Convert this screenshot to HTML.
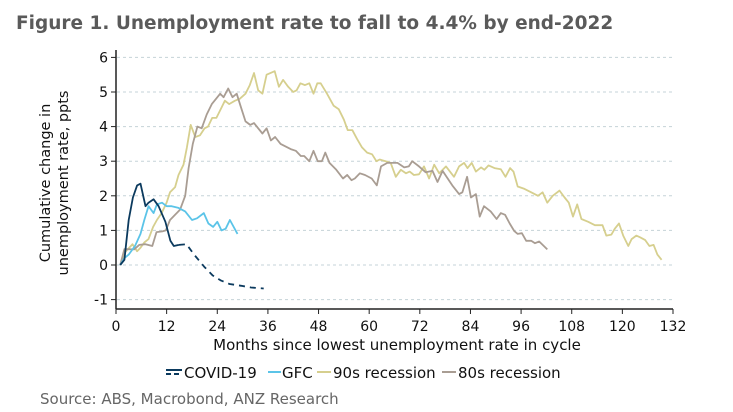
<!DOCTYPE html>
<html><head><meta charset="utf-8"><style>
body{margin:0;background:#fff;width:733px;height:407px;overflow:hidden;font-family:"Liberation Sans","DejaVu Sans",sans-serif}
svg text{font-family:"DejaVu Sans","Liberation Sans",sans-serif}
</style></head><body>
<svg id="chart" width="733" height="407" xmlns="http://www.w3.org/2000/svg">
<text x="16" y="29" font-size="18.5" font-weight="bold" fill="#5a5a5a" style="font-family:'DejaVu Sans',sans-serif">Figure 1. Unemployment rate to fall to 4.4% by end-2022</text>
<g id="grid"></g><g id="axes"></g><g id="series"></g>
<text x="397" y="350" font-size="15" text-anchor="middle" fill="#111">Months since lowest unemployment rate in cycle</text>
<text transform="translate(50,183) rotate(-90)" font-size="14.5" text-anchor="middle" fill="#111"><tspan x="0" dy="0">Cumulative change in</tspan><tspan x="0" dy="18">unemployment rate, ppts</tspan></text>
<g id="legend" font-size="15" fill="#111">
<g><line x1="166" y1="370" x2="182" y2="370" stroke="#0b3a5e" stroke-width="2"/><line x1="166" y1="374" x2="182" y2="374" stroke="#0b3a5e" stroke-width="2" stroke-dasharray="5,3"/><text x="184" y="378">COVID-19</text></g>
<g><line x1="268" y1="372" x2="281" y2="372" stroke="#5bc4e8" stroke-width="2"/><text x="282" y="378">GFC</text></g>
<g><line x1="317" y1="372" x2="331" y2="372" stroke="#d6cf8e" stroke-width="2"/><text x="333" y="378">90s recession</text></g>
<g><line x1="442" y1="372" x2="456" y2="372" stroke="#a99d93" stroke-width="2"/><text x="458" y="378">80s recession</text></g>
</g>
<text x="40" y="404" font-size="15" fill="#666">Source: ABS, Macrobond, ANZ Research</text>
</svg>
<script>
const xTicks=[0,12,24,36,48,60,72,84,96,108,120,132];
const yTicks=[-1,0,1,2,3,4,5,6];
const covidX=[1,2,3,4,5,5.8,7,7.7,8.9,10.1,11.7,12.9,13.7,14.9];
const covidY=[0,0.15,1.3,1.95,2.3,2.35,1.7,1.8,1.9,1.7,1.25,0.7,0.55,0.58];
const covidFcX=[14.9,16.7,18.5,20.9,22.9,24.9,26.9,29.7,32,35];
const covidFcY=[0.58,0.6,0.3,-0.05,-0.3,-0.45,-0.55,-0.6,-0.65,-0.68];
const gfcX=[1,2,3,4.5,5.8,6.7,7.7,8.9,9.7,10.9,12,13.2,14.8,16.4,18,19.2,20.8,21.9,23,24,25,26,27,28.8];
const gfcY=[0,0.2,0.3,0.55,0.9,1.3,1.7,1.5,1.75,1.8,1.7,1.7,1.65,1.55,1.3,1.35,1.5,1.2,1.1,1.25,1,1.05,1.3,0.9];
const r90X=[1,2,3.9,5,5.8,6.7,7.7,8.8,9.7,10.8,12,12.8,14,14.8,16,16.8,17.7,18.8,19.9,21,21.8,22.8,23.8,25,25.8,26.8,28.2,29.3,30.7,31.7,32.7,33.7,34.7,35.7,37.6,38.6,39.6,40.8,42,42.8,43.7,44.8,45.8,46.8,47.7,48.5,50,51.6,52.8,54,54.9,56,57.1,58.3,59.5,60.7,61.7,62.5,63.9,65.1,66.3,67.5,68.7,69.6,70.6,71.8,73,74.2,75.4,76.6,78.2,80.1,81.3,82.5,83.3,84.3,85.3,86.5,87.3,88.3,89.7,91.2,92.3,93.4,94.2,95.2,96.8,98.4,100,101.1,102.2,103.5,105.1,106.3,107.3,108.3,109.3,110.3,111.9,113.5,115.3,116.2,117.4,118.2,119.2,120.2,121.4,122.2,123.3,124.2,125.4,126.4,127.4,128.3,129.3];
const r90Y=[0,0.35,0.6,0.4,0.5,0.65,0.75,1.1,1.3,1.5,1.8,2.1,2.25,2.6,2.9,3.4,4.05,3.7,3.75,3.95,4,4.25,4.25,4.55,4.75,4.65,4.75,4.8,4.95,5.2,5.55,5.05,4.95,5.5,5.6,5.15,5.35,5.15,5,5.05,5.25,5.2,5.25,4.95,5.25,5.25,4.95,4.6,4.5,4.2,3.9,3.9,3.65,3.4,3.25,3.2,3,3.05,3,2.95,2.55,2.75,2.65,2.7,2.6,2.62,2.85,2.5,2.9,2.65,2.85,2.55,2.85,2.95,2.8,2.95,2.7,2.82,2.75,2.88,2.8,2.77,2.55,2.8,2.7,2.27,2.2,2.1,2,2.1,1.8,2,2.15,1.95,1.8,1.4,1.75,1.33,1.25,1.15,1.15,0.85,0.88,1.05,1.2,0.85,0.55,0.75,0.85,0.8,0.72,0.55,0.58,0.3,0.15];
const r80X=[1,2,4.3,5.5,7,8.6,9.6,11,11.8,12.8,14,15.2,16.4,17.2,18.2,19.3,20.3,21.5,22.7,24.7,25.5,26.6,27.6,28.6,29.5,30.7,31.8,32.7,34.7,35.7,36.7,37.7,39,41.4,42.6,43.8,44.6,45.8,46.8,47.8,48.8,49.6,50.6,52.2,53.8,54.8,55.8,56.6,57.8,59,60.6,61.8,62.8,64.3,66.7,68.3,69.4,70.2,71.8,73.4,75,76.2,77.4,78.6,79.7,81.3,82.1,83.2,84.1,85.3,86.2,87.2,88.8,90.2,91.2,92.2,93.3,94.4,95.2,96.2,97.2,98.4,99.3,100.3,102.2];
const r80Y=[0,0.46,0.45,0.58,0.6,0.55,0.95,0.97,1,1.3,1.45,1.6,2,2.8,3.5,4,3.95,4.35,4.65,4.95,4.85,5.1,4.85,4.95,4.6,4.15,4.05,4.1,3.8,3.95,3.6,3.7,3.5,3.35,3.3,3.15,3.15,3,3.3,3,3,3.25,2.95,2.75,2.5,2.6,2.45,2.5,2.65,2.6,2.5,2.3,2.85,2.95,2.95,2.82,2.85,3,2.85,2.68,2.72,2.4,2.72,2.5,2.3,2.05,2.1,2.55,1.95,2.05,1.4,1.7,1.55,1.33,1.5,1.45,1.2,0.98,0.9,0.92,0.7,0.7,0.63,0.68,0.45];
const NS='http://www.w3.org/2000/svg';
const X0=116,X1=673,Y0=265,PPU=34.6;
function sx(v){return X0+(v/132)*(X1-X0);}
function sy(v){return Y0-v*PPU;}
function mk(tag,attrs,parent){const e=document.createElementNS(NS,tag);for(const k in attrs)e.setAttribute(k,attrs[k]);parent.appendChild(e);return e;}
const grid=document.getElementById('grid'),axes=document.getElementById('axes'),ser=document.getElementById('series');
yTicks.forEach(t=>{
  const g=mk('line',{x1:X0+1,x2:X1,y1:sy(t),y2:sy(t),stroke:'#c5d3d8','stroke-dasharray':'3,3','stroke-width':1},grid);
  
  
  const tk=mk('line',{x1:X0-5,x2:X0,y1:sy(t),y2:sy(t),stroke:'#222'},axes);
  
  
  const tx=mk('text',{x:X0-8,y:sy(t)+5,'text-anchor':'end','font-size':14,fill:'#111'},axes);
  tx.textContent=t;
  
  
});
const yb=309;
const ya=mk('line',{x1:X0,x2:X0,y1:50,y2:yb,stroke:'#222','stroke-width':1.5},axes);


const xa=mk('line',{x1:X0,x2:X1,y1:yb,y2:yb,stroke:'#222','stroke-width':1.5},axes);


xTicks.forEach(t=>{
  const tk=mk('line',{x1:sx(t),x2:sx(t),y1:yb,y2:yb+5,stroke:'#222'},axes);
  
  
  const tx=mk('text',{x:sx(t),y:yb+22,'text-anchor':'middle','font-size':14,fill:'#111'},axes);
  tx.textContent=t;
  
  
});
function line(xs,ys,color,name,dash){
  const d=xs.map((x,i)=>(i?'L':'M')+sx(x).toFixed(1)+','+sy(ys[i]).toFixed(1)).join(' ');
  const p=mk('path',{d:d,fill:'none',stroke:color,'stroke-width':1.8,'stroke-linejoin':'round'},ser);
  if(dash)p.setAttribute('stroke-dasharray',dash);
  
  
}
line(r90X,r90Y,'#d6cf8e','series-90s-recession');
line(r80X,r80Y,'#a99d93','series-80s-recession');
line(gfcX,gfcY,'#5bc4e8','series-gfc');
line(covidX,covidY,'#0b3a5e','series-covid-19');
line(covidFcX,covidFcY,'#0b3a5e','series-covid-19-forecast','6,5');
</script>
</body></html>
